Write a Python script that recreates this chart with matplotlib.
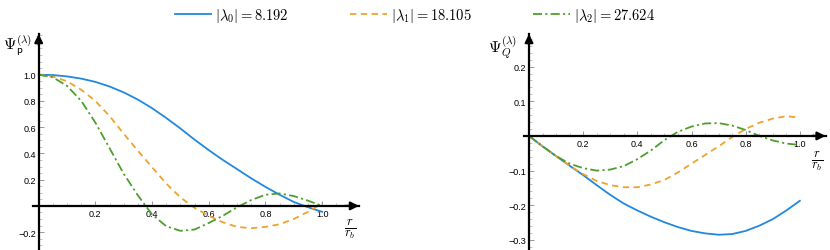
import matplotlib
matplotlib.use("Agg")
import matplotlib.pyplot as plt
from matplotlib.ticker import MultipleLocator
from matplotlib.lines import Line2D

plt.rcParams['font.family'] = ['Liberation Sans', 'DejaVu Sans']
plt.rcParams['mathtext.fontset'] = 'cm'

# r / r_b sample positions
r = [0.0, 0.05, 0.1, 0.15, 0.2, 0.25, 0.3, 0.35, 0.4, 0.45, 0.5,
     0.55, 0.6, 0.65, 0.7, 0.75, 0.8, 0.85, 0.9, 0.95, 1.0]

# Psi_p for each eigenvalue
psi_p0 = [1.0, 0.997, 0.987, 0.97, 0.945, 0.91, 0.865, 0.81, 0.745, 0.67, 0.59,
          0.505, 0.425, 0.35, 0.28, 0.21, 0.145, 0.085, 0.03, -0.01, -0.045]
psi_p1 = [1.0, 0.985, 0.95, 0.885, 0.8, 0.685, 0.55, 0.42, 0.295, 0.17, 0.065,
          -0.015, -0.075, -0.125, -0.16, -0.17, -0.16, -0.14, -0.1, -0.045, 0.02]
psi_p2 = [1.0, 0.98, 0.915, 0.8, 0.635, 0.44, 0.245, 0.08, -0.065, -0.155, -0.19,
          -0.18, -0.13, -0.075, -0.01, 0.045, 0.085, 0.095, 0.075, 0.04, 0.0]

# Psi_Q for each eigenvalue
psi_q0 = [0.0, -0.03, -0.058, -0.086, -0.113, -0.142, -0.17, -0.195, -0.215, -0.233, -0.249,
          -0.263, -0.274, -0.281, -0.285, -0.283, -0.274, -0.259, -0.24, -0.215, -0.187]
psi_q1 = [0.0, -0.03, -0.058, -0.086, -0.11, -0.13, -0.142, -0.148, -0.148, -0.14, -0.127,
          -0.105, -0.08, -0.055, -0.03, -0.003, 0.02, 0.038, 0.05, 0.057, 0.053]
psi_q2 = [0.0, -0.03, -0.058, -0.08, -0.093, -0.1, -0.097, -0.087, -0.067, -0.042, -0.012,
          0.012, 0.027, 0.036, 0.037, 0.03, 0.017, 0.0, -0.013, -0.022, -0.026]

labels = [r'$|\lambda_0| = 8.192$', r'$|\lambda_1| = 18.105$', r'$|\lambda_2| = 27.624$']
colors = ['#2188DE', '#EFA22E', '#4E9F2E']
styles = ['-', (0, (3.5, 2.5)), (0, (5, 1.8, 1.2, 1.8))]

fig = plt.figure(figsize=(8.3, 2.51), dpi=100)


def style_axis(ax, xlim, ylim, yticks, yminor):
    ax.set_xlim(*xlim)
    ax.set_ylim(*ylim)
    for s in ['top', 'right']:
        ax.spines[s].set_visible(False)
    for s in ['left', 'bottom']:
        ax.spines[s].set_position('zero')
        ax.spines[s].set_linewidth(1.6)
    ax.set_xticks([0.2, 0.4, 0.6, 0.8, 1.0])
    ax.set_xticklabels(['0.2', '0.4', '0.6', '0.8', '1.0'])
    ax.xaxis.set_minor_locator(MultipleLocator(0.05))
    ax.set_yticks(yticks)
    ax.set_yticklabels([f'{v:.1f}'.replace('-', '\u2212') for v in yticks])
    ax.yaxis.set_minor_locator(MultipleLocator(yminor))
    ax.tick_params(axis='both', which='major', direction='in', length=3.5,
                   width=0.6, labelsize=6.5, color='#888888', pad=2)
    ax.tick_params(axis='both', which='minor', direction='in', length=2,
                   width=0.5, color='#aaaaaa')
    # arrow heads
    ax.annotate('', xy=(xlim[1], 0), xytext=(xlim[1] - 0.05, 0),
                arrowprops=dict(arrowstyle='-|>', color='black', lw=1.6,
                                mutation_scale=12, shrinkA=0, shrinkB=0),
                annotation_clip=False)
    ax.annotate('', xy=(0, ylim[1]), xytext=(0, ylim[1] - (ylim[1] - ylim[0]) * 0.05),
                arrowprops=dict(arrowstyle='-|>', color='black', lw=1.6,
                                mutation_scale=12, shrinkA=0, shrinkB=0),
                annotation_clip=False)


# left panel
ax1 = fig.add_axes([33 / 830, 0.0, 326 / 830, 216 / 251])
for y, c, ls in zip([psi_p0, psi_p1, psi_p2], colors, styles):
    ax1.plot(r, y, color=c, ls=ls, lw=1.3)
style_axis(ax1, (-0.02, 1.13), (-0.336, 1.31), [-0.2, 0.2, 0.4, 0.6, 0.8, 1.0], 0.05)
fig.text(3 / 830, 1 - 46 / 251, r'$\Psi_{\mathsf{p}}^{(\lambda)}$', fontsize=11.5,
         ha='left', va='center')
ax1.text(1.1, -0.17, r'$\frac{r}{r_b}$', fontsize=13, ha='center', va='center')

# right panel
ax2 = fig.add_axes([523.6 / 830, 0.0, 302 / 830, 216 / 251])
for y, c, ls in zip([psi_q0, psi_q1, psi_q2], colors, styles):
    ax2.plot(r, y, color=c, ls=ls, lw=1.3)
style_axis(ax2, (-0.02, 1.095), (-0.329, 0.294), [-0.3, -0.2, -0.1, 0.1, 0.2], 0.02)
fig.text(488 / 830, 1 - 48 / 251, r'$\Psi_{Q}^{(\lambda)}$', fontsize=11.5,
         ha='left', va='center')
ax2.text(1.065, -0.07, r'$\frac{r}{r_b}$', fontsize=13, ha='center', va='center')

handles = [Line2D([0], [0], color=c, ls=ls, lw=1.3) for c, ls in zip(colors, styles)]
fig.legend(handles, labels, loc='upper center', bbox_to_anchor=(0.5, 1.025), ncol=3,
           frameon=False, fontsize=10.5, handlelength=2.5, columnspacing=4.2,
           handletextpad=0.3)

fig.savefig('out.png', dpi=100)
